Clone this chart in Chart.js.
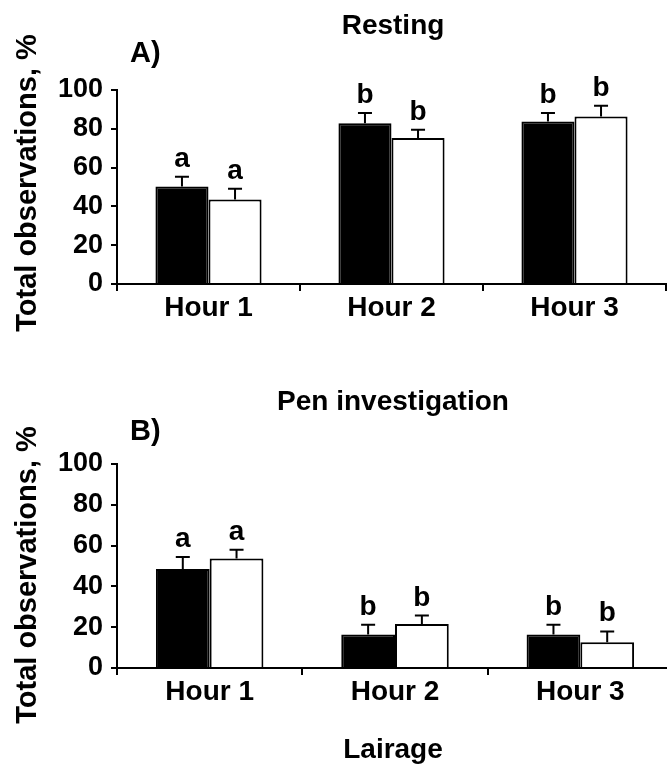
<!DOCTYPE html>
<html>
<head>
<meta charset="utf-8">
<script src="https://cdn.jsdelivr.net/npm/chart.js@4/dist/chart.umd.min.js"></script>
<style>
  html, body { margin: 0; padding: 0; background: #fff; width: 667px; height: 771px; overflow: hidden; }
  canvas { position: absolute; left: 0; }
  #restChart { top: 0; }
  #penChart { top: 380px; }
</style>
</head>
<body>
<canvas id="restChart" width="667" height="340"></canvas>
<canvas id="penChart" width="675" height="391"></canvas>
<script>
// data (mean and SE, %)
const hours = ['Hour 1', 'Hour 2', 'Hour 3'];
const yTicks = [0, 20, 40, 60, 80, 100];

const restBlack = [50.2, 82.9, 83.8];
const restBlackSE = [5.1, 5.2, 4.3];
const restWhite = [43.6, 75.3, 86.4];
const restWhiteSE = [5.5, 4.2, 5.5];
const restBlackLetters = ['a', 'b', 'b'];
const restWhiteLetters = ['a', 'b', 'b'];

const penBlack = [48.5, 16.4, 16.4];
const penBlackSE = [5.9, 4.8, 4.8];
const penWhite = [53.7, 21.6, 12.6];
const penWhiteSE = [4.3, 4.1, 5.3];
const penBlackLetters = ['a', 'b', 'b'];
const penWhiteLetters = ['a', 'b', 'b'];

const FONT = "'Liberation Sans', Arial, Helvetica, sans-serif";

// error bars (upward only) + letters above them
const errorBarPlugin = {
    id: 'errorBars',
    afterDatasetsDraw(chart) {
        const ctx = chart.ctx;
        const yScale = chart.scales.y;
        chart.data.datasets.forEach((ds, i) => {
            const meta = chart.getDatasetMeta(i);
            meta.data.forEach((bar, j) => {
                const top = yScale.getPixelForValue(ds.data[j] + ds.se[j]);
                ctx.save();
                ctx.strokeStyle = '#000';
                ctx.lineWidth = 2;
                ctx.beginPath();
                ctx.moveTo(bar.x, bar.y);
                ctx.lineTo(bar.x, top);
                ctx.moveTo(bar.x - 7, top);
                ctx.lineTo(bar.x + 7, top);
                ctx.stroke();
                ctx.fillStyle = '#000';
                ctx.font = 'bold 28px ' + FONT;
                ctx.textAlign = 'center';
                ctx.textBaseline = 'alphabetic';
                ctx.fillText(ds.letters[j], bar.x, top - 10);
                ctx.restore();
            });
        });
    }
};

// titles, panel tag, rotated y title
const textPlugin = {
    id: 'panelText',
    afterDraw(chart, args, opts) {
        const ctx = chart.ctx;
        ctx.save();
        ctx.fillStyle = '#000';
        ctx.textBaseline = 'alphabetic';
        ctx.font = 'bold 28px ' + FONT;
        ctx.textAlign = 'center';
        ctx.fillText(opts.title, 393, opts.titleY);
        ctx.textAlign = 'left';
        ctx.font = 'bold 29px ' + FONT;
        ctx.fillText(opts.tag, 130, opts.tagY);
        if (opts.bottomText) {
            ctx.textAlign = 'center';
            ctx.font = 'bold 28px ' + FONT;
            ctx.fillText(opts.bottomText, 393, opts.bottomY);
        }
        ctx.translate(36, opts.yTitleY);
        ctx.rotate(-Math.PI / 2);
        ctx.textAlign = 'center';
        ctx.font = 'bold 29px ' + FONT;
        ctx.fillText('Total observations, %', 0, 0);
        ctx.restore();
    }
};

function makePanel(id, black, blackSE, white, whiteSE, lettersB, lettersW, layout, textOpts) {
    const canvas = document.getElementById(id);
    return new Chart(canvas.getContext('2d'), {
        type: 'bar',
        data: {
            labels: hours,
            datasets: [{
                label: 'Group 1',
                data: black,
                se: blackSE,
                letters: lettersB,
                backgroundColor: '#000',
                borderColor: '#000',
                borderWidth: 2
            }, {
                label: 'Group 2',
                data: white,
                se: whiteSE,
                letters: lettersW,
                backgroundColor: '#fff',
                borderColor: '#000',
                borderWidth: 2
            }]
        },
        options: {
            responsive: false,
            animation: false,
            devicePixelRatio: 1,
            layout: { padding: { top: layout.top, right: layout.right, left: 0, bottom: 0 } },
            datasets: { bar: { categoryPercentage: 0.58, barPercentage: 1 } },
            scales: {
                x: {
                    grid: { offset: true, drawOnChartArea: false, drawTicks: true, tickLength: 7, color: '#000', lineWidth: 2 },
                    border: { color: '#000', width: 2 },
                    ticks: { color: '#000', padding: 0, font: { family: FONT, size: 28, weight: 'bold' }, maxRotation: 0 },
                    afterFit: (scale) => { scale.height = layout.xHeight; }
                },
                y: {
                    min: 0,
                    max: 100,
                    afterBuildTicks: (scale) => { scale.ticks = yTicks.map(v => ({ value: v })); },
                    grid: { drawOnChartArea: false, drawTicks: true, tickLength: 6, color: '#000', lineWidth: 2 },
                    border: { color: '#000', width: 2 },
                    ticks: { color: '#000', padding: 8, font: { family: FONT, size: 27, weight: 'bold' } },
                    afterFit: (scale) => { scale.width = 117; }
                }
            },
            plugins: {
                legend: { display: false },
                tooltip: { enabled: false },
                panelText: textOpts
            }
        },
        plugins: [errorBarPlugin, textPlugin]
    });
}

makePanel('restChart', restBlack, restBlackSE, restWhite, restWhiteSE, restBlackLetters, restWhiteLetters,
    { top: 90, right: 1, xHeight: 56 },
    { title: 'Resting', titleY: 34, tag: 'A)', tagY: 62, yTitleY: 183 });

makePanel('penChart', penBlack, penBlackSE, penWhite, penWhiteSE, penBlackLetters, penWhiteLetters,
    { top: 84, right: 2, xHeight: 103 },
    { title: 'Pen investigation', titleY: 30, tag: 'B)', tagY: 60, yTitleY: 195, bottomText: 'Lairage', bottomY: 378 });
</script>
</body>
</html>
